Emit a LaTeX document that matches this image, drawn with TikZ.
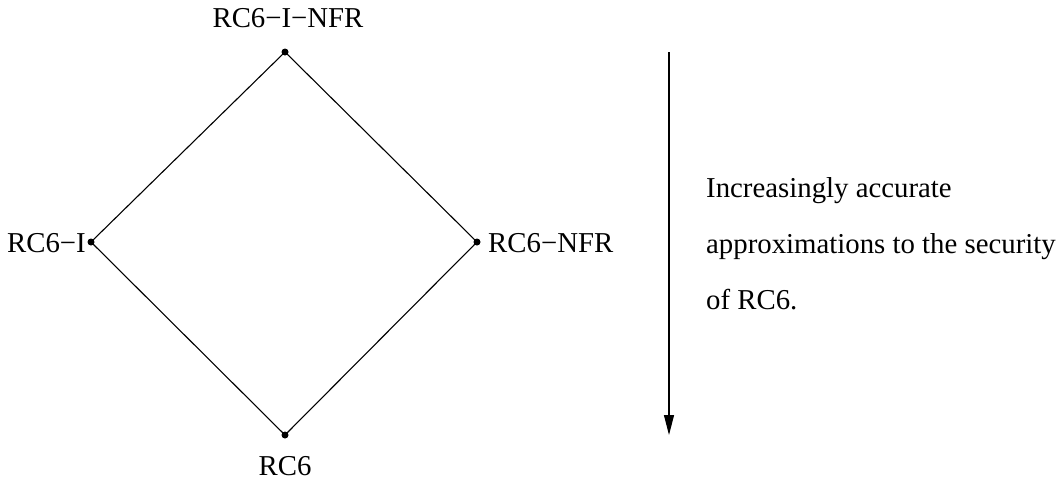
\documentclass[tikz,border=0pt]{standalone}
\usepackage{fontspec}
\setmainfont{Liberation Serif}
\usetikzlibrary{arrows.meta}
\begin{document}
\begin{tikzpicture}[x=1pt,y=-1pt,
  lbl/.style={font=\fontsize{28.8}{32}\selectfont, inner sep=0pt},
  pt/.style={circle, fill=black, inner sep=0pt, minimum size=7pt},
  edge/.style={line width=1.1pt}]
\useasboundingbox (0,0) rectangle (1061,491);
\node[pt] (top) at (285,52) {};
\node[pt] (left) at (91,242) {};
\node[pt] (right) at (477,242) {};
\node[pt] (bot) at (285,435) {};
\draw[edge] (top.center) -- (left.center) -- (bot.center) -- (right.center) -- (top.center);
\node[lbl, anchor=base] (ltop) at (288,27) {RC6−I−NFR};
\node[lbl, anchor=base east] (lleft) at (86,252) {RC6−I};
\node[lbl, anchor=base west] (lright) at (488,252) {RC6−NFR};
\node[lbl, anchor=base] (lbot) at (285,475) {RC6};
\coordinate (as) at (669,52);
\coordinate (ae) at (669,435);
\draw[line width=1.1pt, -{Triangle[length=20pt,width=10pt]}] (as) -- (ae);
\node[lbl, anchor=base west] (t1) at (706,197) {Increasingly accurate};
\node[lbl, anchor=base west] (t2) at (706,253) {approximations to the security};
\node[lbl, anchor=base west] (t3) at (706,309) {of RC6.};
\end{tikzpicture}
\end{document}
